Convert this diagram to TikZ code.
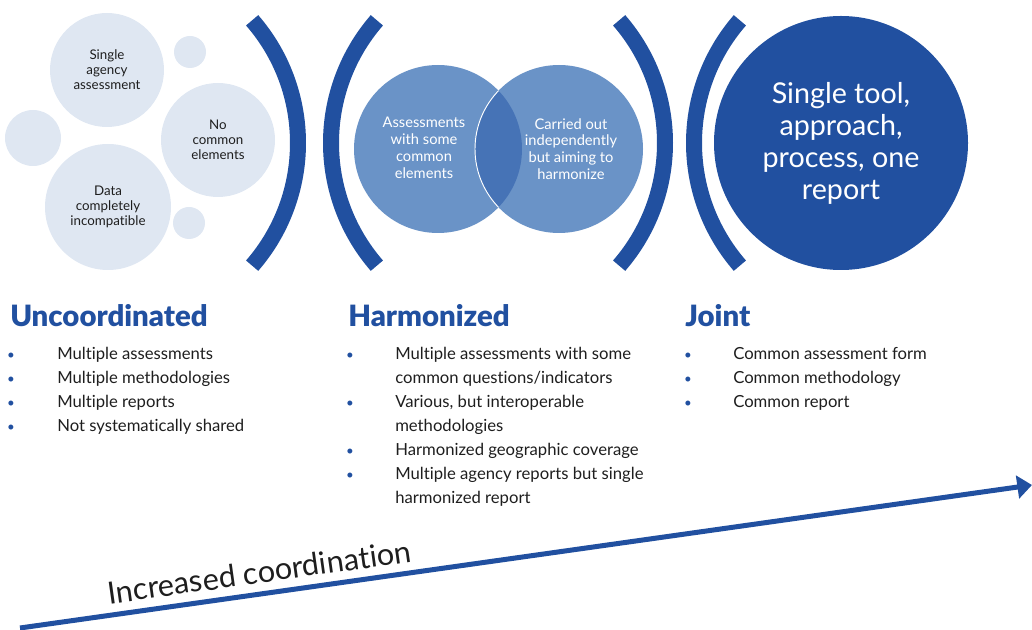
\documentclass[tikz,border=0pt]{standalone}
\usepackage{fontspec}
\setmainfont{Lato}[Ligatures={NoCommon,NoContextual},BoldFont={Lato Black}]
\usetikzlibrary{arrows.meta,positioning}

\definecolor{navy}{HTML}{2150A0}
\definecolor{midblue}{HTML}{6A93C7}
\definecolor{lapblue}{HTML}{4673B6}
\definecolor{paleblue}{HTML}{DFE7F2}
\definecolor{ink}{HTML}{1E1E1E}

\tikzset{
  bubble/.style={circle,fill=paleblue,inner sep=0pt,align=center,text=ink,
    font=\fontsize{10}{11.3}\selectfont},
  venn/.style={circle,fill=midblue,inner sep=0pt},
  venntext/.style={align=center,text=white,font=\fontsize{11}{12.6}\selectfont},
  bracket/.style={navy,line width=12pt},
  heading/.style={anchor=base west,inner sep=0pt,text=navy,font=\fontsize{22}{24}\selectfont\bfseries},
  item/.style={anchor=base west,inner sep=0pt,text=ink,font=\fontsize{12.5}{14}\selectfont},
  bul/.style={anchor=base,inner sep=0pt,text=navy,font=\fontsize{10}{12}\selectfont},
  trend/.style={navy,line width=3.75pt,-{Triangle[length=11pt,width=17pt]}}
}

\begin{document}
\begin{tikzpicture}[x=0.75pt,y=-0.75pt]
\useasboundingbox (0,0) rectangle (1032,630);

% uncoordinated bubbles
\node[bubble,minimum size=85.5pt] (single) at (107,70) {Single\\agency\\assessment};
\node[bubble,minimum size=85.5pt] (nocommon) at (218,140) {No\\common\\elements};
\node[bubble,minimum size=94.5pt] (data) at (108,207) {Data\\completely\\incompatible};
\node[bubble,minimum size=42pt] (dotleft) at (33,138) {};
\node[bubble,minimum size=24pt] (dottop) at (190,52) {};
\node[bubble,minimum size=24pt] (dotlow) at (189,223) {};

% brackets
\draw[bracket] (111,143) ++(-41:187) arc[start angle=-41,end angle=41,radius=187];
\draw[bracket] (518,143) ++(139:187) arc[start angle=139,end angle=221,radius=187];
\draw[bracket] (478,143) ++(-41:187) arc[start angle=-41,end angle=41,radius=187];
\draw[bracket] (881,143) ++(139:187) arc[start angle=139,end angle=221,radius=187];

% harmonized venn
\node[venn,minimum size=126pt] (vennl) at (438,149) {};
\node[venn,minimum size=126pt] (vennr) at (559,149) {};
\begin{scope}
  \clip (vennl.center) circle[radius=84];
  \fill[lapblue] (vennr.center) circle[radius=84];
  \draw[white,line width=0.7pt] (vennr.center) circle[radius=84];
\end{scope}
\node[venntext] (vennltext) at (424,148) {Assessments\\with some\\common\\elements};
\node[venntext] (vennrtext) at (571,149) {Carried out\\independently\\but aiming to\\harmonize};

% joint
\node[circle,fill=navy,minimum size=190.5pt,inner sep=0pt,align=center,text=white,
  font=\fontsize{21.5}{24}\selectfont] (joint) at (841,143) {Single tool,\\approach,\\process, one\\report};

% headings and lists
\node[heading] (uncoord) at (10,327) {Uncoordinated};
\node[heading] (harmon) at (348,327) {Harmonized};
\node[heading] (jointhead) at (685,327) {Joint};

\foreach \t [count=\i] in {Multiple assessments,Multiple methodologies,Multiple reports,Not systematically shared}{
  \node[item] (u\i) at (57,336+24*\i) {\t};
  \node[bul] (ub\i) at (11,336+24*\i) {\textbullet};
}
\foreach \t [count=\i] in {Multiple assessments with some,common questions/indicators,{Various, but interoperable},methodologies,Harmonized geographic coverage,Multiple agency reports but single,harmonized report}
  \node[item] (h\i) at (395,336+24*\i) {\t};
\foreach \i in {1,3,5,6}
  \node[bul] (hb\i) at (350,336+24*\i) {\textbullet};
\foreach \t [count=\i] in {Common assessment form,Common methodology,Common report}{
  \node[item] (j\i) at (733,336+24*\i) {\t};
  \node[bul] (jb\i) at (688,336+24*\i) {\textbullet};
}

% trend arrow
\coordinate (trendstart) at (20,628);
\coordinate (trendend) at (1032,485);
\draw[trend] (trendstart) -- (trendend);
\node[anchor=base,inner sep=0pt,rotate=8,text=ink,font=\fontsize{23}{26}\selectfont] (trendlabel) at (261,583) {Increased coordination};
\end{tikzpicture}
\end{document}
